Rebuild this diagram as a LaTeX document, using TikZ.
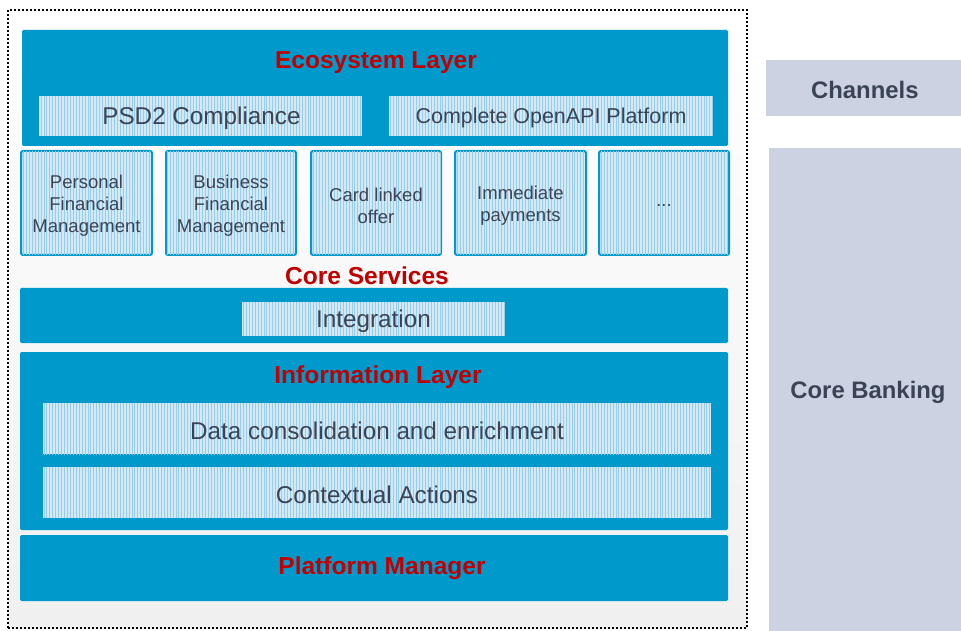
\documentclass[tikz,border=0pt]{standalone}
\usepackage{fontspec}
\setmainfont{Liberation Sans}
\usetikzlibrary{fit,patterns.meta}
\definecolor{lblue}{HTML}{0099CC}
\definecolor{pfill}{HTML}{D3EAF6}
\definecolor{pline}{HTML}{98CDE9}
\definecolor{tred}{HTML}{C00000}
\definecolor{tgray}{HTML}{3A4456}
\definecolor{sgray}{HTML}{CCD2E2}
\definecolor{bggray}{HTML}{F0F0F0}
\tikzset{
  layer/.style={fill=lblue, draw=none, rounded corners=1pt, inner sep=0pt},
  tex/.style={fill=pfill, inner sep=0pt,
    postaction={pattern={Lines[angle=90,distance=2.2pt,line width=0.7pt]}, pattern color=pline}},
  svc/.style={tex, draw=lblue, line width=1.5pt, rounded corners=1.5pt},
  txt/.style={inner sep=0pt, yshift=-1.8pt},
  title/.style={txt, text=tred, font=\bfseries\fontsize{18.4}{20}\selectfont},
  lbl/.style={txt, text=tgray, font=\fontsize{18.2}{20}\selectfont},
  lblsm/.style={txt, text=tgray, font=\fontsize{16.1}{18}\selectfont},
  small/.style={txt, text=tgray, font=\fontsize{13.9}{16.5}\selectfont, align=center},
  side/.style={fill=sgray, inner sep=0pt},
  sidelbl/.style={txt, text=tgray, font=\bfseries\fontsize{17.9}{20}\selectfont},
  frame/.style={draw=black, line width=1.6pt, dash pattern=on 1.5pt off 1.5pt, top color=white, bottom color=bggray, inner sep=0pt}
}
\begin{document}
\begin{tikzpicture}[x=0.75pt,y=-0.75pt]
\useasboundingbox (0,0) rectangle (961,631);
% outer dotted frame
\node[frame, fit={(8,10)(747,628)}] (frame) {};
% side columns
\node[side, fit={(766,60)(961,116)}] (channels) {};
\node[sidelbl] at ([xshift=1pt]channels.center) {Channels};
\node[side, fit={(769,148)(961,631)}] (corebank) {};
\node[sidelbl] at ([xshift=2.25pt]corebank.center) {Core Banking};
% ecosystem layer
\node[layer, fit={(22,30)(728,146)}] (eco) {};
\node[title] at (376,60) {Ecosystem Layer};
\node[tex, fit={(39,96)(362,136)}] (psd2) {};
\node[lbl] at ([xshift=0.75pt]psd2.center) {PSD2 Compliance};
\node[tex, fit={(389,96)(713,136)}] (openapi) {};
\node[lblsm] at (openapi.center) {Complete OpenAPI Platform};
% service boxes
\node[svc, fit={(21,151)(152,255)}] (pfm) {};
\node[small] at (pfm.center) {Personal\\Financial\\Management};
\node[svc, fit={(166,151)(296,255)}] (bfm) {};
\node[small] at (bfm.center) {Business\\Financial\\Management};
\node[svc, fit={(311,151)(441,255)}] (card) {};
\node[small] at (card.center) {Card linked\\offer};
\node[svc, fit={(455,151)(586,255)}] (imm) {};
\node[small] at (imm.center) {Immediate\\payments};
\node[svc, fit={(599,151)(729,255)}] (more) {};
\node[small] at (more.center) {...};
% core services
\node[title] at (367,273) {Core Services};
\node[layer, fit={(20,288)(728,343)}] (integ) {};
\node[tex, fit={(242,302)(505,336)}] (integin) {};
\node[lbl] at (integin.center) {Integration};
% information layer
\node[layer, fit={(20,352)(728,530)}] (info) {};
\node[title] at (378,375) {Information Layer};
\node[tex, fit={(43,403)(711,454)}] (data) {};
\node[lbl] at (data.center) {Data consolidation and enrichment};
\node[tex, fit={(43,467)(711,518)}] (ctx) {};
\node[lbl] at (ctx.center) {Contextual Actions};
% platform manager
\node[layer, fit={(20,535)(728,601)}] (pm) {};
\node[title] at (382,566) {Platform Manager};
\end{tikzpicture}
\end{document}
